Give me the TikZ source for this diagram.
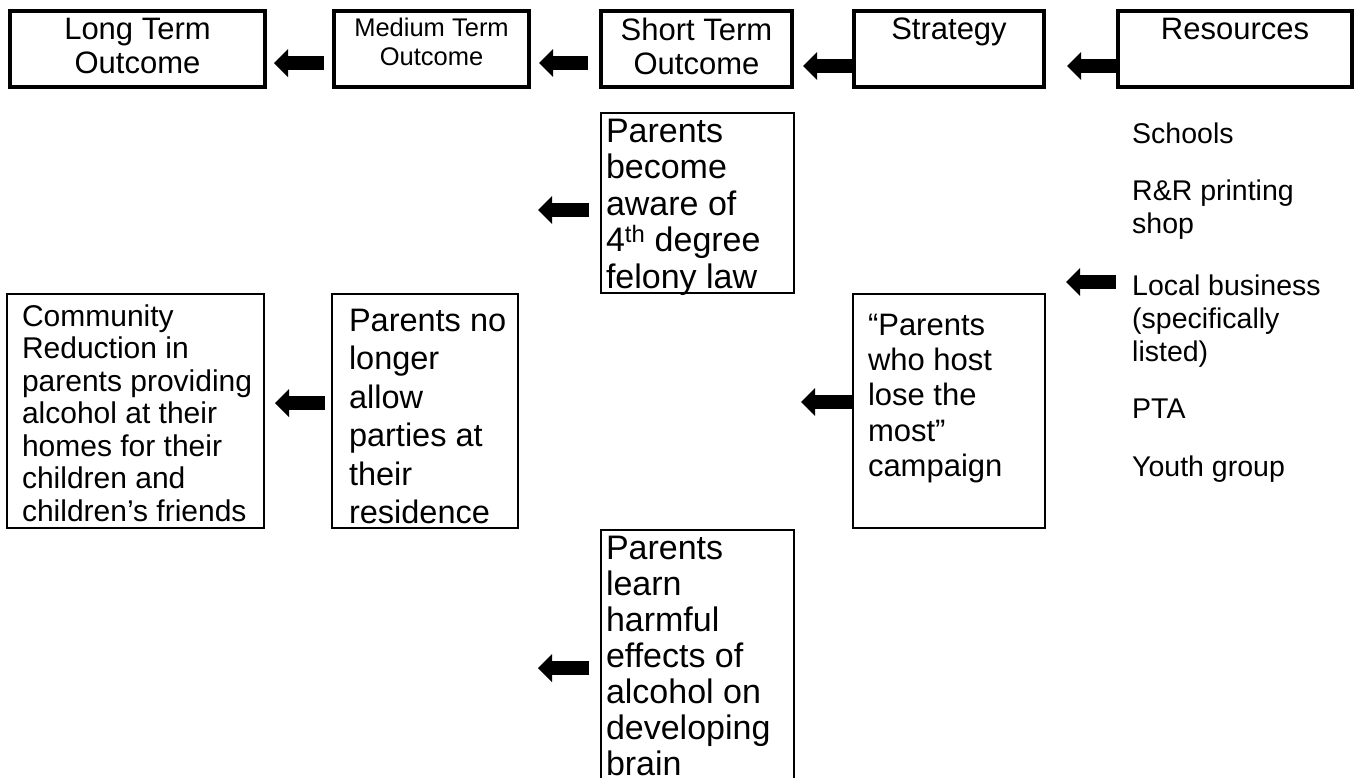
\documentclass[tikz,border=0pt]{standalone}
\usepackage{fontspec}
\setmainfont{Liberation Sans}
\usetikzlibrary{arrows.meta}

\newcommand{\fsz}[2]{\fontsize{#1}{#2}\selectfont}
% width, height, top gap, left gap, text
\newcommand{\cellfill}[5]{\parbox[c][#2][t]{#1}{\raggedright\leftskip=#4\relax\vspace*{#3}#5}}
% width, height, top gap, text
\newcommand{\hdrfill}[4]{\parbox[c][#2][t]{#1}{\centering\vspace*{#3}#4}}

\tikzset{
  hdr/.style={draw, line width=4pt, outer sep=0pt, inner sep=0pt, anchor=north west},
  cell/.style={draw, line width=1.3pt, outer sep=0pt, inner sep=0pt, anchor=north west},
  res/.style={anchor=base west, inner sep=0pt, font=\fsz{28.5}{33}},
  fat/.style={line width=14pt, -{Triangle[length=14pt,width=28pt,line width=0pt]}}
}
\hbadness=10000 \hfuzz=20pt

\begin{document}
\begin{tikzpicture}[x=1pt,y=-1pt]
\useasboundingbox (0,0) rectangle (1362,777);
\clip (0,0) rectangle (1362,777);

% header row
\node[hdr, minimum width=255pt, minimum height=76pt, font=\fsz{31}{34}] (lt) at (10,11)
  {\hdrfill{250pt}{72pt}{5pt}{Long Term\\Outcome}};
\node[hdr, minimum width=195pt, minimum height=76pt, font=\fsz{25.5}{29}] (md) at (334,11)
  {\hdrfill{190pt}{72pt}{5pt}{Medium Term\\Outcome}};
\node[hdr, minimum width=191pt, minimum height=76pt, font=\fsz{31}{34}] (st) at (601,11)
  {\hdrfill{186pt}{72pt}{5pt}{Short Term\\Outcome}};
\node[hdr, minimum width=190pt, minimum height=76pt, font=\fsz{31}{34}] (sg) at (854,11)
  {\hdrfill{185pt}{72pt}{5pt}{Strategy}};
\node[hdr, minimum width=234pt, minimum height=76pt, font=\fsz{31}{34}] (rs) at (1118,11)
  {\hdrfill{229pt}{72pt}{5pt}{Resources}};

\draw[fat, shorten <=10pt, shorten >=9pt] ([yshift=-14pt]md.west) -- ([yshift=-14pt]lt.east);
\draw[fat, shorten <=13pt, shorten >=10pt] ([yshift=-14pt]st.west) -- ([yshift=-14pt]md.east);
\draw[fat, shorten <=2pt, shorten >=11pt] ([yshift=-17pt]sg.west) -- ([yshift=-17pt]st.east);
\draw[fat, shorten <=1pt, shorten >=23pt] ([yshift=-17pt]rs.west) -- ([yshift=-17pt]sg.east);

% short term outcomes
\node[cell, minimum width=193pt, minimum height=180pt, font=\fsz{34}{36.5}] (st1) at (601,113)
  {\cellfill{191pt}{178pt}{5pt}{4pt}{Parents\\become\\aware of\\4\textsuperscript{th} degree\\felony law}};
\node[cell, minimum width=193pt, minimum height=300pt, font=\fsz{34}{36}] (st3) at (601,530)
  {\cellfill{191pt}{296pt}{4pt}{4pt}{Parents\\learn\\harmful\\effects of\\alcohol on\\developing\\brain}};

% long and medium term outcomes
\node[cell, minimum width=257pt, minimum height=234pt, font=\fsz{30}{32.5}] (lt2) at (7,294)
  {\cellfill{255pt}{230pt}{8.5pt}{14pt}{Community\\Reduction in\\parents providing\\alcohol at their\\homes for their\\children and\\children’s friends}};
\node[cell, minimum width=186pt, minimum height=234pt, font=\fsz{32.5}{38.5}] (md2) at (332,294)
  {\cellfill{184pt}{230pt}{13pt}{16pt}{Parents no\\longer\\allow\\parties at\\their\\residence}};

% strategy
\node[cell, minimum width=192pt, minimum height=234pt, font=\fsz{31}{35.3}] (sg2) at (853,294)
  {\cellfill{190pt}{230pt}{18pt}{14pt}{“Parents\\who host\\lose the\\most”\\campaign}};

% resources
\node[res] (r1) at (1132,143) {\parbox[t]{220pt}{Schools}};
\node[res] (r2) at (1132,200) {\parbox[t]{220pt}{R\&R printing\\shop}};
\node[res] (r3) at (1132,295) {\parbox[t]{220pt}{Local business\\(specifically\\listed)}};
\node[res] (r4) at (1132,418) {\parbox[t]{220pt}{PTA}};
\node[res] (r5) at (1132,476) {\parbox[t]{220pt}{Youth group}};

% arrows in the body
\coordinate (t1) at (538,210);
\coordinate (t3) at (801,402);
\coordinate (t4) at (1066,282);
\coordinate (t5) at (538,668);
\draw[fat, shorten <=12pt] (st1.west |- t1) -- (t1);
\draw[fat, shorten <=7pt, shorten >=11pt] ([yshift=8pt]md2.west) -- ([yshift=8pt]lt2.east);
\draw[fat] (sg2.west |- t3) -- (t3);
\draw[fat, shorten <=16pt] (r3.west |- t4) -- (t4);
\draw[fat, shorten <=12pt] (st3.west |- t5) -- (t5);
\end{tikzpicture}
\end{document}
